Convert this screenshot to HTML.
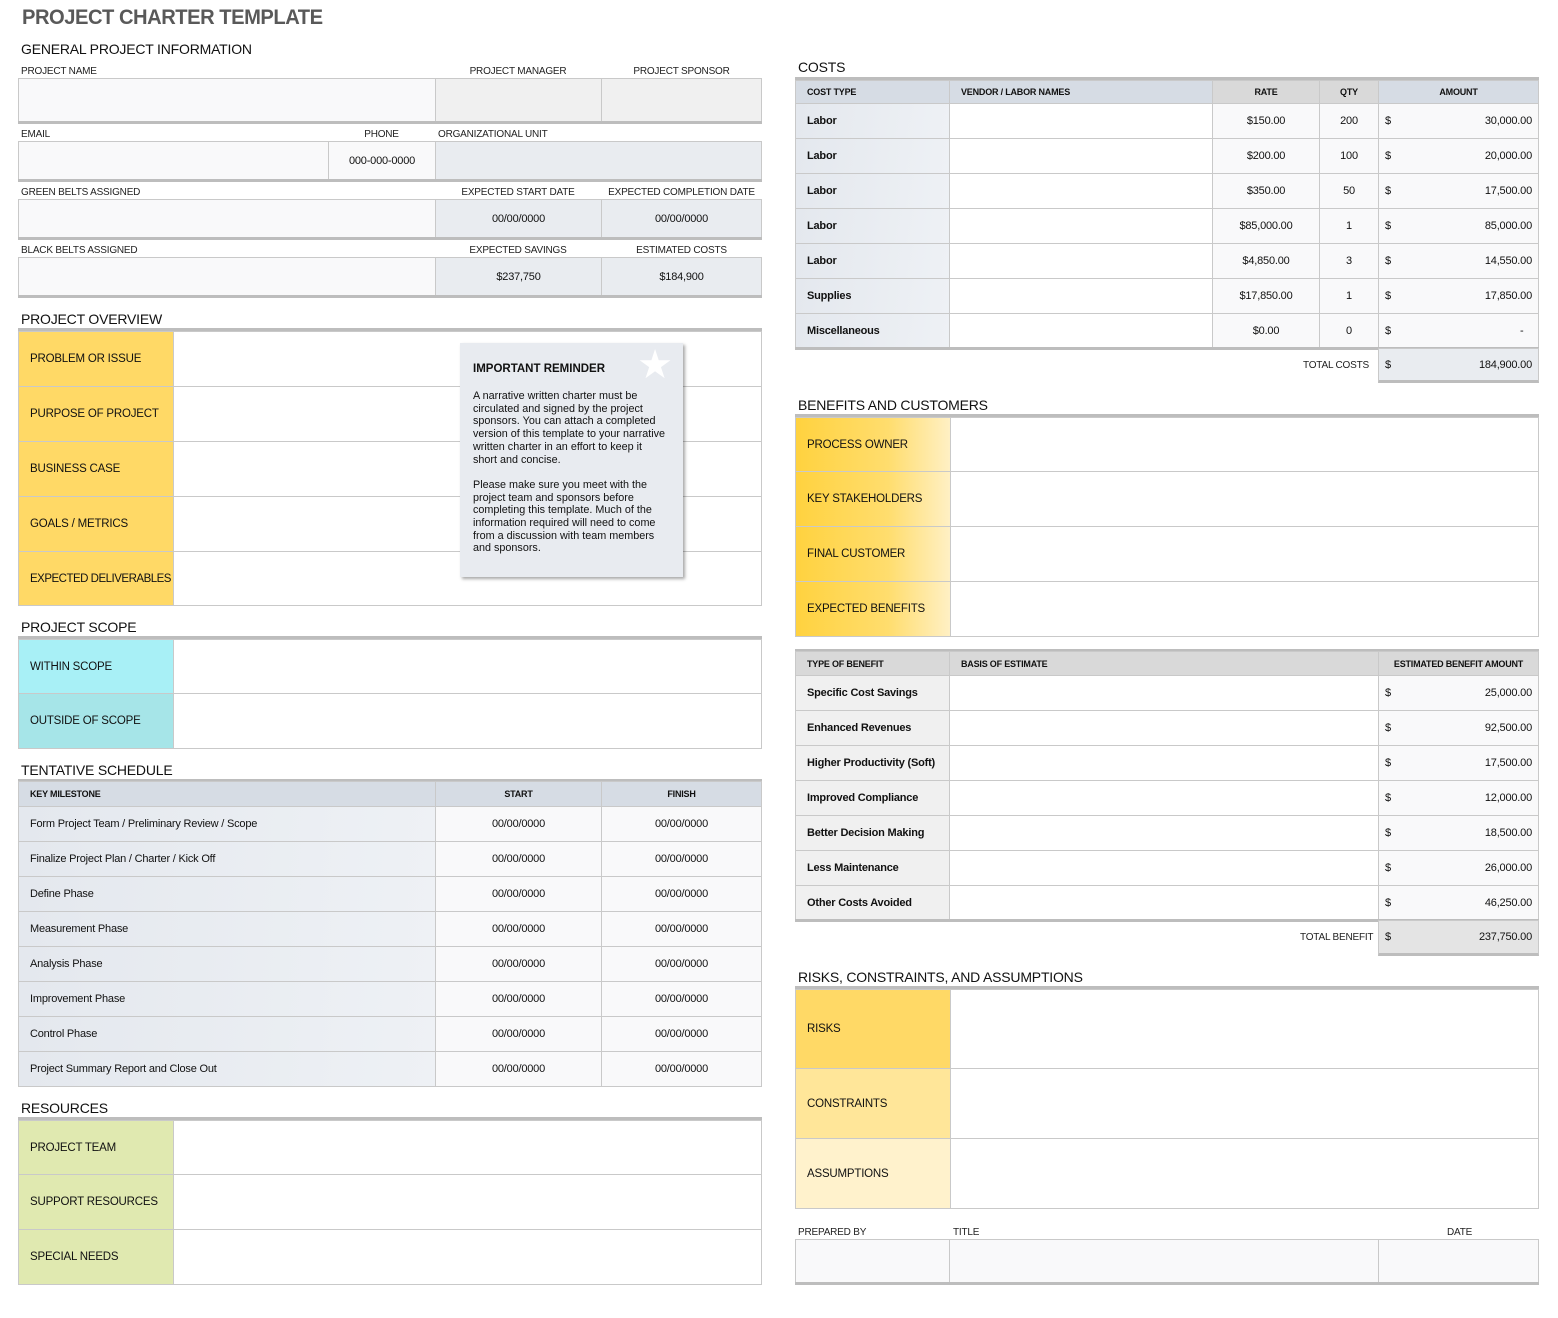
<!DOCTYPE html>
<html><head><meta charset="utf-8"><style>
body{margin:0;width:1558px;height:1318px;background:#fff;position:relative;font-family:"Liberation Sans",sans-serif;overflow:hidden}
.c{position:absolute;box-sizing:border-box;border:1px solid #c9c9c9;display:flex;align-items:center;padding:0 11px;font-size:11.5px;letter-spacing:-0.2px;color:#111;white-space:nowrap;overflow:hidden;background:#fff}
.m{justify-content:center}.r{justify-content:flex-end}
.t{position:absolute;font-size:10px;color:#222;white-space:nowrap;letter-spacing:-0.2px}
.h{position:absolute;font-size:14px;color:#111;letter-spacing:-0.2px}
.bar{position:absolute;height:3px;background:#bdbdbd}
.s{font-size:11px}.b{font-weight:bold;font-size:11px}.hd{font-weight:bold;font-size:9px;background:#d6dce4}
.y{background:#ffd966}.cy{background:#a8f0f6}.cy2{background:#a6e5e8}.g{background:#e0e9b0}
.gy{background:linear-gradient(90deg,#ffd23f 0%,#ffdd6e 60%,#fff0c4 100%)}
.bl{background:linear-gradient(100deg,#e4e8ee,#eef1f5)}
.l1{background:#f9f9fa}.l2{background:#e9ecf0}.l3{background:#f0f0f0}
</style></head><body>
<div style="position:absolute;left:22px;top:6px;font-size:21px;font-weight:bold;color:#595959;letter-spacing:-0.5px;transform:scaleX(0.96);transform-origin:left">PROJECT CHARTER TEMPLATE</div>
<div class="h" style="left:21px;top:41px">GENERAL PROJECT INFORMATION</div>

<div class="t" style="left:21px;top:66px">PROJECT NAME</div>
<div class="t" style="left:435px;width:166px;text-align:center;top:66px">PROJECT MANAGER</div>
<div class="t" style="left:601px;width:161px;text-align:center;top:66px">PROJECT SPONSOR</div>
<div class="c l1" style="left:18px;top:78px;width:418px;height:44px"></div>
<div class="c l3" style="left:435px;top:78px;width:167px;height:44px"></div>
<div class="c l3" style="left:601px;top:78px;width:161px;height:44px"></div>
<div class="bar" style="left:18px;top:121px;width:744px"></div>

<div class="t" style="left:21px;top:129px">EMAIL</div>
<div class="t" style="left:328px;width:107px;text-align:center;top:129px">PHONE</div>
<div class="t" style="left:438px;top:129px">ORGANIZATIONAL UNIT</div>
<div class="c l1" style="left:18px;top:141px;width:311px;height:39px"></div>
<div class="c l1 m s" style="left:328px;top:141px;width:108px;height:39px">000-000-0000</div>
<div class="c l2" style="left:435px;top:141px;width:327px;height:39px"></div>
<div class="bar" style="left:18px;top:179px;width:744px"></div>

<div class="t" style="left:21px;top:187px">GREEN BELTS ASSIGNED</div>
<div class="t" style="left:435px;width:166px;text-align:center;top:187px">EXPECTED START DATE</div>
<div class="t" style="left:601px;width:161px;text-align:center;top:187px">EXPECTED COMPLETION DATE</div>
<div class="c l1" style="left:18px;top:199px;width:418px;height:39px"></div>
<div class="c l2 m s" style="left:435px;top:199px;width:167px;height:39px">00/00/0000</div>
<div class="c l2 m s" style="left:601px;top:199px;width:161px;height:39px">00/00/0000</div>
<div class="bar" style="left:18px;top:237px;width:744px"></div>

<div class="t" style="left:21px;top:245px">BLACK BELTS ASSIGNED</div>
<div class="t" style="left:435px;width:166px;text-align:center;top:245px">EXPECTED SAVINGS</div>
<div class="t" style="left:601px;width:161px;text-align:center;top:245px">ESTIMATED COSTS</div>
<div class="c l1" style="left:18px;top:257px;width:418px;height:39px"></div>
<div class="c l2 m s" style="left:435px;top:257px;width:167px;height:39px">$237,750</div>
<div class="c l2 m s" style="left:601px;top:257px;width:161px;height:39px">$184,900</div>
<div class="bar" style="left:18px;top:295px;width:744px"></div>

<div class="h" style="left:21px;top:311px">PROJECT OVERVIEW</div>
<div class="bar" style="left:18px;top:328px;width:744px"></div>
<div class="c y" style="left:18px;top:331px;width:156px;height:56px">PROBLEM OR ISSUE</div><div class="c" style="left:173px;top:331px;width:589px;height:56px"></div>
<div class="c y" style="left:18px;top:386px;width:156px;height:56px">PURPOSE OF PROJECT</div><div class="c" style="left:173px;top:386px;width:589px;height:56px"></div>
<div class="c y" style="left:18px;top:441px;width:156px;height:56px">BUSINESS CASE</div><div class="c" style="left:173px;top:441px;width:589px;height:56px"></div>
<div class="c y" style="left:18px;top:496px;width:156px;height:56px">GOALS / METRICS</div><div class="c" style="left:173px;top:496px;width:589px;height:56px"></div>
<div class="c y" style="left:18px;top:551px;width:156px;height:55px;letter-spacing:-0.5px">EXPECTED DELIVERABLES</div><div class="c" style="left:173px;top:551px;width:589px;height:55px"></div>

<div style="position:absolute;left:460px;top:343px;width:223px;height:234px;background:#e8ebf0;box-shadow:2px 2px 3px rgba(0,0,0,0.35)">
<div style="position:absolute;right:10px;top:2px;font-size:40px;color:#fff;line-height:40px">★</div>
<div style="position:absolute;left:13px;top:20px;font-size:11.5px;font-weight:bold;color:#111">IMPORTANT REMINDER</div>
<div style="position:absolute;left:13px;top:47px;width:193px;font-size:10.8px;line-height:12.7px;color:#111">A narrative written charter must be circulated and signed by the project sponsors. You can attach a completed version of this template to your narrative written charter in an effort to keep it short and concise.<br><br>Please make sure you meet with the project team and sponsors before completing this template. Much of the information required will need to come from a discussion with team members and sponsors.</div>
</div>

<div class="h" style="left:21px;top:619px">PROJECT SCOPE</div>
<div class="bar" style="left:18px;top:636px;width:744px"></div>
<div class="c cy" style="left:18px;top:639px;width:156px;height:55px">WITHIN SCOPE</div><div class="c" style="left:173px;top:639px;width:589px;height:55px"></div>
<div class="c cy2" style="left:18px;top:693px;width:156px;height:56px">OUTSIDE OF SCOPE</div><div class="c" style="left:173px;top:693px;width:589px;height:56px"></div>

<div class="h" style="left:21px;top:762px">TENTATIVE SCHEDULE</div>
<div class="bar" style="left:18px;top:779px;width:744px"></div>
<div class="c hd" style="left:18px;top:781px;width:418px;height:26px">KEY MILESTONE</div>
<div class="c hd m" style="left:435px;top:781px;width:167px;height:26px">START</div>
<div class="c hd m" style="left:601px;top:781px;width:161px;height:26px">FINISH</div>
<div class="c bl s" style="left:18px;top:806px;width:418px;height:36px">Form Project Team / Preliminary Review / Scope</div><div class="c l1 m s" style="left:435px;top:806px;width:167px;height:36px">00/00/0000</div><div class="c l1 m s" style="left:601px;top:806px;width:161px;height:36px">00/00/0000</div>
<div class="c bl s" style="left:18px;top:841px;width:418px;height:36px">Finalize Project Plan / Charter / Kick Off</div><div class="c l1 m s" style="left:435px;top:841px;width:167px;height:36px">00/00/0000</div><div class="c l1 m s" style="left:601px;top:841px;width:161px;height:36px">00/00/0000</div>
<div class="c bl s" style="left:18px;top:876px;width:418px;height:36px">Define Phase</div><div class="c l1 m s" style="left:435px;top:876px;width:167px;height:36px">00/00/0000</div><div class="c l1 m s" style="left:601px;top:876px;width:161px;height:36px">00/00/0000</div>
<div class="c bl s" style="left:18px;top:911px;width:418px;height:36px">Measurement Phase</div><div class="c l1 m s" style="left:435px;top:911px;width:167px;height:36px">00/00/0000</div><div class="c l1 m s" style="left:601px;top:911px;width:161px;height:36px">00/00/0000</div>
<div class="c bl s" style="left:18px;top:946px;width:418px;height:36px">Analysis Phase</div><div class="c l1 m s" style="left:435px;top:946px;width:167px;height:36px">00/00/0000</div><div class="c l1 m s" style="left:601px;top:946px;width:161px;height:36px">00/00/0000</div>
<div class="c bl s" style="left:18px;top:981px;width:418px;height:36px">Improvement Phase</div><div class="c l1 m s" style="left:435px;top:981px;width:167px;height:36px">00/00/0000</div><div class="c l1 m s" style="left:601px;top:981px;width:161px;height:36px">00/00/0000</div>
<div class="c bl s" style="left:18px;top:1016px;width:418px;height:36px">Control Phase</div><div class="c l1 m s" style="left:435px;top:1016px;width:167px;height:36px">00/00/0000</div><div class="c l1 m s" style="left:601px;top:1016px;width:161px;height:36px">00/00/0000</div>
<div class="c bl s" style="left:18px;top:1051px;width:418px;height:36px">Project Summary Report and Close Out</div><div class="c l1 m s" style="left:435px;top:1051px;width:167px;height:36px">00/00/0000</div><div class="c l1 m s" style="left:601px;top:1051px;width:161px;height:36px">00/00/0000</div>

<div class="h" style="left:21px;top:1100px">RESOURCES</div>
<div class="bar" style="left:18px;top:1117px;width:744px"></div>
<div class="c g" style="left:18px;top:1120px;width:156px;height:55px">PROJECT TEAM</div><div class="c" style="left:173px;top:1120px;width:589px;height:55px"></div>
<div class="c g" style="left:18px;top:1174px;width:156px;height:56px">SUPPORT RESOURCES</div><div class="c" style="left:173px;top:1174px;width:589px;height:56px"></div>
<div class="c g" style="left:18px;top:1229px;width:156px;height:56px">SPECIAL NEEDS</div><div class="c" style="left:173px;top:1229px;width:589px;height:56px"></div>

<!-- RIGHT -->
<div class="h" style="left:798px;top:59px">COSTS</div>
<div class="bar" style="left:795px;top:77px;width:744px"></div>
<div class="c hd" style="left:795px;top:80px;width:155px;height:24px">COST TYPE</div>
<div class="c hd" style="left:949px;top:80px;width:264px;height:24px">VENDOR / LABOR NAMES</div>
<div class="c hd m" style="left:1212px;top:80px;width:108px;height:24px;background:#d9d9d9">RATE</div>
<div class="c hd m" style="left:1319px;top:80px;width:60px;height:24px;background:#d9d9d9">QTY</div>
<div class="c hd m" style="left:1378px;top:80px;width:161px;height:24px">AMOUNT</div>

<div class="c bl b" style="left:795px;top:103px;width:155px;height:36px">Labor</div><div class="c" style="left:949px;top:103px;width:264px;height:36px"></div><div class="c l1 m s" style="left:1212px;top:103px;width:108px;height:36px">$150.00</div><div class="c l1 m s" style="left:1319px;top:103px;width:60px;height:36px">200</div><div class="c l1 s" style="left:1378px;top:103px;width:161px;height:36px;padding:0 6px;justify-content:space-between"><span>$</span><span>30,000.00</span></div>
<div class="c bl b" style="left:795px;top:138px;width:155px;height:36px">Labor</div><div class="c" style="left:949px;top:138px;width:264px;height:36px"></div><div class="c l1 m s" style="left:1212px;top:138px;width:108px;height:36px">$200.00</div><div class="c l1 m s" style="left:1319px;top:138px;width:60px;height:36px">100</div><div class="c l1 s" style="left:1378px;top:138px;width:161px;height:36px;padding:0 6px;justify-content:space-between"><span>$</span><span>20,000.00</span></div>
<div class="c bl b" style="left:795px;top:173px;width:155px;height:36px">Labor</div><div class="c" style="left:949px;top:173px;width:264px;height:36px"></div><div class="c l1 m s" style="left:1212px;top:173px;width:108px;height:36px">$350.00</div><div class="c l1 m s" style="left:1319px;top:173px;width:60px;height:36px">50</div><div class="c l1 s" style="left:1378px;top:173px;width:161px;height:36px;padding:0 6px;justify-content:space-between"><span>$</span><span>17,500.00</span></div>
<div class="c bl b" style="left:795px;top:208px;width:155px;height:36px">Labor</div><div class="c" style="left:949px;top:208px;width:264px;height:36px"></div><div class="c l1 m s" style="left:1212px;top:208px;width:108px;height:36px">$85,000.00</div><div class="c l1 m s" style="left:1319px;top:208px;width:60px;height:36px">1</div><div class="c l1 s" style="left:1378px;top:208px;width:161px;height:36px;padding:0 6px;justify-content:space-between"><span>$</span><span>85,000.00</span></div>
<div class="c bl b" style="left:795px;top:243px;width:155px;height:36px">Labor</div><div class="c" style="left:949px;top:243px;width:264px;height:36px"></div><div class="c l1 m s" style="left:1212px;top:243px;width:108px;height:36px">$4,850.00</div><div class="c l1 m s" style="left:1319px;top:243px;width:60px;height:36px">3</div><div class="c l1 s" style="left:1378px;top:243px;width:161px;height:36px;padding:0 6px;justify-content:space-between"><span>$</span><span>14,550.00</span></div>
<div class="c bl b" style="left:795px;top:278px;width:155px;height:36px">Supplies</div><div class="c" style="left:949px;top:278px;width:264px;height:36px"></div><div class="c l1 m s" style="left:1212px;top:278px;width:108px;height:36px">$17,850.00</div><div class="c l1 m s" style="left:1319px;top:278px;width:60px;height:36px">1</div><div class="c l1 s" style="left:1378px;top:278px;width:161px;height:36px;padding:0 6px;justify-content:space-between"><span>$</span><span>17,850.00</span></div>
<div class="c bl b" style="left:795px;top:313px;width:155px;height:36px">Miscellaneous</div><div class="c" style="left:949px;top:313px;width:264px;height:36px"></div><div class="c l1 m s" style="left:1212px;top:313px;width:108px;height:36px">$0.00</div><div class="c l1 m s" style="left:1319px;top:313px;width:60px;height:36px">0</div><div class="c l1 s" style="left:1378px;top:313px;width:161px;height:36px;padding:0 6px;justify-content:space-between"><span>$</span><span>-&nbsp;&nbsp;&nbsp;</span></div>
<div class="bar" style="left:795px;top:347px;width:744px"></div>
<div class="t" style="left:1303px;top:360px">TOTAL COSTS</div>
<div class="c l2 s" style="left:1378px;top:348px;width:161px;height:35px;padding:0 6px;justify-content:space-between;border-bottom:3px solid #bdbdbd"><span>$</span><span>184,900.00</span></div>

<div class="h" style="left:798px;top:397px">BENEFITS AND CUSTOMERS</div>
<div class="bar" style="left:795px;top:414px;width:744px"></div>
<div class="c gy" style="left:795px;top:417px;width:156px;height:55px">PROCESS OWNER</div><div class="c" style="left:950px;top:417px;width:589px;height:55px"></div>
<div class="c gy" style="left:795px;top:471px;width:156px;height:56px">KEY STAKEHOLDERS</div><div class="c" style="left:950px;top:471px;width:589px;height:56px"></div>
<div class="c gy" style="left:795px;top:526px;width:156px;height:56px">FINAL CUSTOMER</div><div class="c" style="left:950px;top:526px;width:589px;height:56px"></div>
<div class="c gy" style="left:795px;top:581px;width:156px;height:56px">EXPECTED BENEFITS</div><div class="c" style="left:950px;top:581px;width:589px;height:56px"></div>

<div class="bar" style="left:795px;top:649px;width:744px"></div>
<div class="c hd" style="left:795px;top:651px;width:155px;height:25px;background:#d9d9d9">TYPE OF BENEFIT</div>
<div class="c hd" style="left:949px;top:651px;width:430px;height:25px;background:#d9d9d9">BASIS OF ESTIMATE</div>
<div class="c hd m" style="left:1378px;top:651px;width:161px;height:25px;background:#d9d9d9">ESTIMATED BENEFIT AMOUNT</div>
<div class="c b l3" style="left:795px;top:675px;width:155px;height:36px">Specific Cost Savings</div><div class="c" style="left:949px;top:675px;width:430px;height:36px"></div><div class="c l1 s" style="left:1378px;top:675px;width:161px;height:36px;padding:0 6px;justify-content:space-between"><span>$</span><span>25,000.00</span></div>
<div class="c b l3" style="left:795px;top:710px;width:155px;height:36px">Enhanced Revenues</div><div class="c" style="left:949px;top:710px;width:430px;height:36px"></div><div class="c l1 s" style="left:1378px;top:710px;width:161px;height:36px;padding:0 6px;justify-content:space-between"><span>$</span><span>92,500.00</span></div>
<div class="c b l3" style="left:795px;top:745px;width:155px;height:36px">Higher Productivity (Soft)</div><div class="c" style="left:949px;top:745px;width:430px;height:36px"></div><div class="c l1 s" style="left:1378px;top:745px;width:161px;height:36px;padding:0 6px;justify-content:space-between"><span>$</span><span>17,500.00</span></div>
<div class="c b l3" style="left:795px;top:780px;width:155px;height:36px">Improved Compliance</div><div class="c" style="left:949px;top:780px;width:430px;height:36px"></div><div class="c l1 s" style="left:1378px;top:780px;width:161px;height:36px;padding:0 6px;justify-content:space-between"><span>$</span><span>12,000.00</span></div>
<div class="c b l3" style="left:795px;top:815px;width:155px;height:36px">Better Decision Making</div><div class="c" style="left:949px;top:815px;width:430px;height:36px"></div><div class="c l1 s" style="left:1378px;top:815px;width:161px;height:36px;padding:0 6px;justify-content:space-between"><span>$</span><span>18,500.00</span></div>
<div class="c b l3" style="left:795px;top:850px;width:155px;height:36px">Less Maintenance</div><div class="c" style="left:949px;top:850px;width:430px;height:36px"></div><div class="c l1 s" style="left:1378px;top:850px;width:161px;height:36px;padding:0 6px;justify-content:space-between"><span>$</span><span>26,000.00</span></div>
<div class="c b l3" style="left:795px;top:885px;width:155px;height:36px">Other Costs Avoided</div><div class="c" style="left:949px;top:885px;width:430px;height:36px"></div><div class="c l1 s" style="left:1378px;top:885px;width:161px;height:36px;padding:0 6px;justify-content:space-between"><span>$</span><span>46,250.00</span></div>
<div class="bar" style="left:795px;top:919px;width:744px"></div>
<div class="t" style="left:1300px;top:932px">TOTAL BENEFIT</div>
<div class="c s" style="left:1378px;top:920px;width:161px;height:36px;padding:0 6px;justify-content:space-between;background:#e4e4e4;border-bottom:3px solid #bdbdbd"><span>$</span><span>237,750.00</span></div>

<div class="h" style="left:798px;top:969px">RISKS, CONSTRAINTS, AND ASSUMPTIONS</div>
<div class="bar" style="left:795px;top:986px;width:744px"></div>
<div class="c y" style="left:795px;top:989px;width:156px;height:80px">RISKS</div><div class="c" style="left:950px;top:989px;width:589px;height:80px"></div>
<div class="c" style="left:795px;top:1068px;width:156px;height:71px;background:#ffe699">CONSTRAINTS</div><div class="c" style="left:950px;top:1068px;width:589px;height:71px"></div>
<div class="c" style="left:795px;top:1138px;width:156px;height:71px;background:#fff2cc">ASSUMPTIONS</div><div class="c" style="left:950px;top:1138px;width:589px;height:71px"></div>

<div class="t" style="left:798px;top:1227px">PREPARED BY</div>
<div class="t" style="left:953px;top:1227px">TITLE</div>
<div class="t" style="left:1447px;top:1227px">DATE</div>
<div class="c l1" style="left:795px;top:1239px;width:155px;height:44px"></div>
<div class="c l1" style="left:949px;top:1239px;width:430px;height:44px"></div>
<div class="c l1" style="left:1378px;top:1239px;width:161px;height:44px"></div>
<div class="bar" style="left:795px;top:1282px;width:744px"></div>
</body></html>
